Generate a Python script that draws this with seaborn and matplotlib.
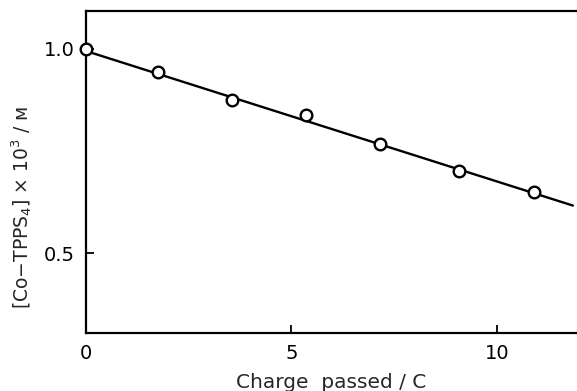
import numpy as np
import pandas as pd
import matplotlib
matplotlib.use('Agg')
import matplotlib.pyplot as plt
import seaborn as sns

# %%
# values
charge = [0.0, 1.75, 3.55, 5.35, 7.15, 9.08, 10.9]
conc = [1.0, 0.944, 0.875, 0.838, 0.767, 0.701, 0.650]

fit_x = [0.0, 11.85]
fit_y = [0.995, 0.617]

x_ticks = [0, 5, 10]
y_ticks = [0.5, 1.0]

# %%
sns.set_style('ticks')
plt.rcParams['font.family'] = ['DejaVu Sans']

df = pd.DataFrame({'charge': charge, 'conc': conc})
fit = pd.DataFrame({'x': fit_x, 'y': fit_y})

fig = plt.figure(figsize=(5.77, 3.91), dpi=100)
ax = fig.add_axes([0.149, 0.148, 0.851, 0.824])

sns.lineplot(data=fit, x='x', y='y', ax=ax, color='black', linewidth=1.7)
sns.scatterplot(data=df, x='charge', y='conc', ax=ax, marker='o', s=70,
                facecolor='white', edgecolor='black', linewidth=1.7, zorder=3,
                clip_on=False)

ax.set_xlim(0, 11.95)
ax.set_ylim(0.305, 1.093)
ax.set_xticks(x_ticks)
ax.set_xticklabels(['0', '5', '10'])
ax.set_yticks(y_ticks)
ax.set_yticklabels(['0.5', '1.0'])
ax.tick_params(direction='in', length=6, width=1.3, labelsize=14, pad=8,
               colors='black', bottom=True, left=True)

for s in ['left', 'bottom', 'top']:
    ax.spines[s].set_visible(True)
    ax.spines[s].set_color('black')
    ax.spines[s].set_linewidth(1.6)
ax.spines['right'].set_visible(False)

ax.set_xlabel('Charge  passed / C', fontsize=14.5, labelpad=7)
ax.set_ylabel('[Co$-$TPPS$_4$] $\\times$ 10$^3$ / ᴍ', fontsize=13.5)
ax.yaxis.set_label_coords(-0.105, 0.39)

fig.savefig('out.png', dpi=100)
